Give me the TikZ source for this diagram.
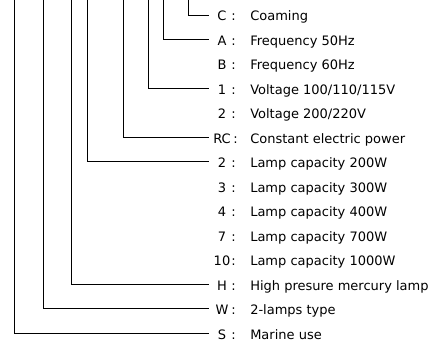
\documentclass[tikz,border=0pt]{standalone}
\usepackage{fontspec}
\setmainfont{DejaVu Sans}
\usetikzlibrary{positioning}
\newcommand{\sepcol}[1][14.5pt]{:\hspace{#1}}

\begin{document}
\begin{tikzpicture}[x=1pt,y=-1pt,
    code/.style={inner sep=0pt, minimum width=26pt, text height=14pt, text depth=2pt, font=\fontsize{13}{15}\selectfont},
    desc/.style={inner sep=0pt, text height=14pt, text depth=2pt, font=\fontsize{13}{15}\selectfont},
    lead/.style={line width=0.9pt}]
    \useasboundingbox (0,0) rectangle (433,345);

    % codici
    \node[code] (cC)  at (222,15)    {C};
    \node[code] (cA)  at (222,39.5)  {A};
    \node[code] (cB)  at (222,64)    {B};
    \node[code] (cV1) at (222,88.4)  {1};
    \node[code] (cV2) at (222,112.8) {2};
    \node[code] (cRC) at (222,137.3) {RC};
    \node[code] (cL2) at (222,161.8) {2};
    \node[code] (cL3) at (222,186.2) {3};
    \node[code] (cL4) at (222,210.7) {4};
    \node[code] (cL7) at (222,235.1) {7};
    \node[code] (cL10) at (222,259.6) {10};
    \node[code] (cH)  at (222,284)   {H};
    \node[code] (cW)  at (222,308.5) {W};
    \node[code] (cS)  at (222,333)   {S};

    % descrizioni
    \node[desc, right=-4pt of cC]  (dC)  {\sepcol Coaming};
    \node[desc, right=-4pt of cA]  (dA)  {\sepcol Frequency 50Hz};
    \node[desc, right=-4pt of cB]  (dB)  {\sepcol Frequency 60Hz};
    \node[desc, right=-4pt of cV1] (dV1) {\sepcol Voltage 100/110/115V};
    \node[desc, right=-4pt of cV2] (dV2) {\sepcol Voltage 200/220V};
    \node[desc, right=-2pt of cRC] (dRC) {\sepcol[12.5pt]Constant electric power};
    \node[desc, right=-4pt of cL2] (dL2) {\sepcol Lamp capacity 200W};
    \node[desc, right=-4pt of cL3] (dL3) {\sepcol Lamp capacity 300W};
    \node[desc, right=-4pt of cL4] (dL4) {\sepcol Lamp capacity 400W};
    \node[desc, right=-4pt of cL7] (dL7) {\sepcol Lamp capacity 700W};
    \node[desc, right=-4pt of cL10] (dL10) {\sepcol Lamp capacity 1000W};
    \node[desc, right=-4pt of cH]  (dH)  {\sepcol High presure mercury lamp};
    \node[desc, right=-4pt of cW]  (dW)  {\sepcol 2-lamps type};
    \node[desc, right=-4pt of cS]  (dS)  {\sepcol Marine use};

    % linee dall'alto
    \coordinate (tS)  at (14,0);
    \coordinate (tW)  at (43,0);
    \coordinate (tH)  at (71,0);
    \coordinate (tL)  at (87,0);
    \coordinate (tRC) at (123,0);
    \coordinate (tV)  at (148,0);
    \coordinate (tF)  at (163,0);
    \coordinate (tC)  at (188,0);

    \draw[lead] (tC)  |- (cC.west);
    \draw[lead] (tF)  |- (cA.west);
    \draw[lead] (tV)  |- (cV1.west);
    \draw[lead] (tRC) |- (cRC.west);
    \draw[lead] (tL)  |- (cL2.west);
    \draw[lead] (tH)  |- (cH.west);
    \draw[lead] (tW)  |- (cW.west);
    \draw[lead] (tS)  |- (cS.west);
\end{tikzpicture}
\end{document}
